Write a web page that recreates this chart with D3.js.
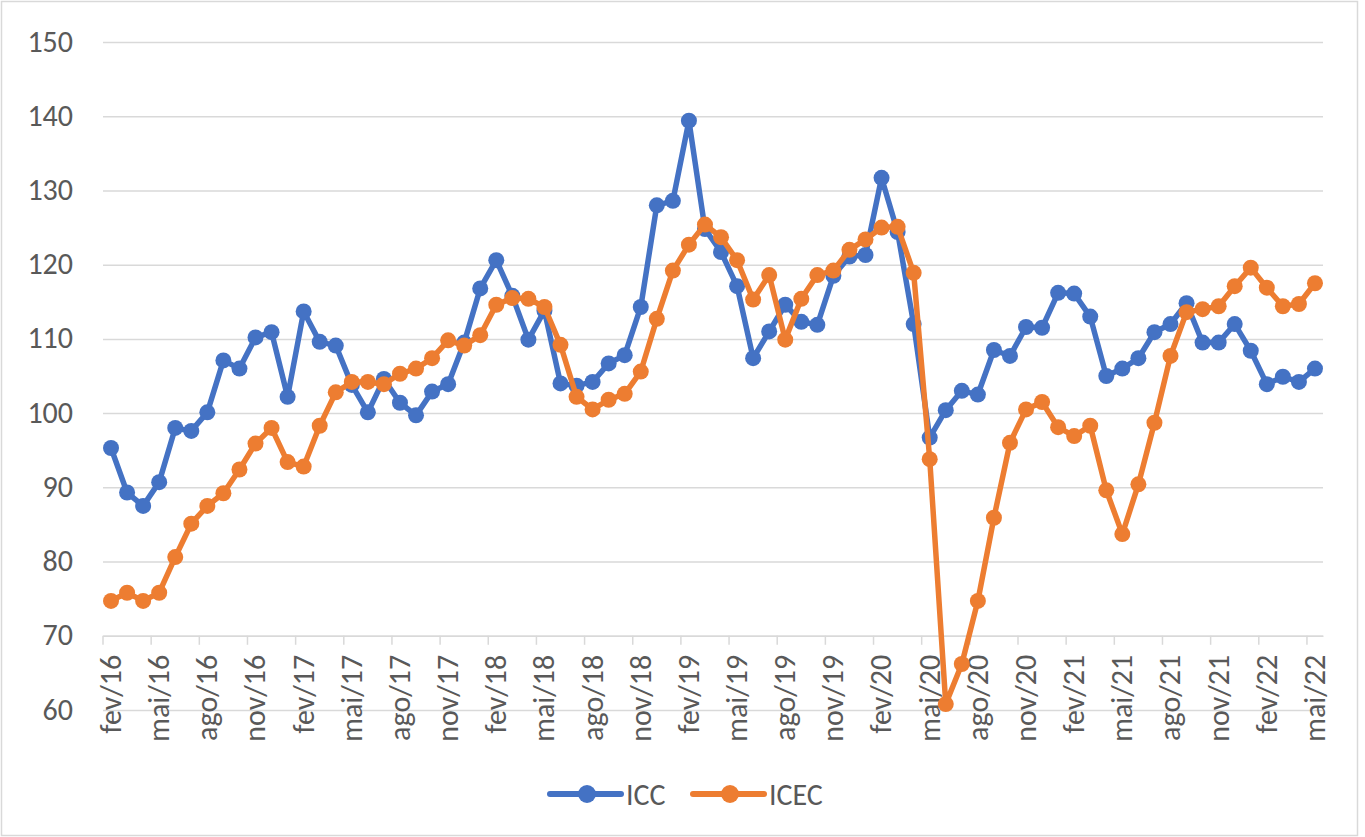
<!DOCTYPE html>
<html>
<head>
<meta charset="UTF-8">
<script src="https://cdn.jsdelivr.net/npm/d3@7"></script>
<style>
  body { margin: 0; background: #fff; }
  text { font-family: Carlito, "Liberation Sans Narrow", "Open Sans", sans-serif; fill: #595959; }
  .grid line { stroke: #d9d9d9; stroke-width: 1.5; }
  .axis-x line, .axis-x path { stroke: #d9d9d9; stroke-width: 1.5; }
</style>
</head>
<body>
<script>
var svgWidth = 1365, svgHeight = 837;
var margin = {top: 42, right: 42, bottom: 127, left: 103};

// monthly categories, fev/16 .. mai/22
var months = [
  "fev/16","mar/16","abr/16","mai/16","jun/16","jul/16","ago/16","set/16","out/16","nov/16","dez/16",
  "jan/17","fev/17","mar/17","abr/17","mai/17","jun/17","jul/17","ago/17","set/17","out/17","nov/17","dez/17",
  "jan/18","fev/18","mar/18","abr/18","mai/18","jun/18","jul/18","ago/18","set/18","out/18","nov/18","dez/18",
  "jan/19","fev/19","mar/19","abr/19","mai/19","jun/19","jul/19","ago/19","set/19","out/19","nov/19","dez/19",
  "jan/20","fev/20","mar/20","abr/20","mai/20","jun/20","jul/20","ago/20","set/20","out/20","nov/20","dez/20",
  "jan/21","fev/21","mar/21","abr/21","mai/21","jun/21","jul/21","ago/21","set/21","out/21","nov/21","dez/21",
  "jan/22","fev/22","mar/22","abr/22","mai/22"
];

var icc = [
  95.3, 89.3, 87.5, 90.7, 98.0, 97.6, 100.1, 107.1, 106.0, 110.2, 110.9,
  102.2, 113.7, 109.6, 109.1, 103.8, 100.1, 104.6, 101.4, 99.7, 102.9, 103.9, 109.5,
  116.8, 120.6, 115.8, 109.9, 113.8, 104.0, 103.7, 104.2, 106.7, 107.8, 114.3, 128.0,
  128.6, 139.4, 124.8, 121.7, 117.1, 107.4, 111.0, 114.6, 112.3, 111.9, 118.5, 121.1,
  121.3, 131.7, 124.4, 112.0, 96.7, 100.4, 103.0, 102.5, 108.5, 107.7, 111.6, 111.5,
  116.2, 116.1, 113.0, 105.0, 106.0, 107.4, 110.9, 112.0, 114.8, 109.5, 109.5, 112.0,
  108.4, 103.9, 104.9, 104.2, 106.0
];

var icec = [
  74.7, 75.8, 74.7, 75.8, 80.6, 85.1, 87.5, 89.2, 92.4, 95.9, 98.0,
  93.4, 92.8, 98.3, 102.8, 104.2, 104.2, 103.9, 105.3, 106.0, 107.4, 109.8, 109.1,
  110.5, 114.6, 115.5, 115.4, 114.3, 109.2, 102.2, 100.5, 101.8, 102.6, 105.6, 112.7,
  119.2, 122.7, 125.4, 123.7, 120.6, 115.3, 118.6, 109.9, 115.4, 118.6, 119.2, 122.0,
  123.4, 125.0, 125.1, 118.9, 93.8, 60.8, 66.2, 74.7, 85.9, 96.0, 100.5, 101.5,
  98.1, 96.9, 98.3, 89.6, 83.7, 90.4, 98.7, 107.7, 113.6, 114.0, 114.4, 117.1,
  119.6, 116.9, 114.4, 114.7, 117.5
];

var yTicks = [60, 70, 80, 90, 100, 110, 120, 130, 140, 150];
var axisCross = 70; // category axis crosses the value axis here

var series = [
  {name: "ICC", values: icc, color: "#4472C4"},
  {name: "ICEC", values: icec, color: "#ED7D31"}
];

var width = svgWidth - margin.left - margin.right,
    height = svgHeight - margin.top - margin.bottom;

var svg = d3.select("body").append("svg")
  .attr("width", svgWidth)
  .attr("height", svgHeight);

// chart border
svg.append("rect")
  .attr("x", 1.5).attr("y", 1.5)
  .attr("width", svgWidth - 9).attr("height", svgHeight - 3)
  .attr("fill", "none")
  .attr("stroke", "#d9d9d9")
  .attr("stroke-width", 1.5);

var g = svg.append("g")
  .attr("transform", "translate(" + margin.left + "," + margin.top + ")");

var x = d3.scaleBand().domain(months).range([0, width]).padding(0);
var bw = x.bandwidth();
var cx = function(m) { return x(m) + bw / 2; };

var y = d3.scaleLinear().domain([60, 150]).range([height, 0]);

// gridlines + y labels
var yAxis = g.append("g")
  .attr("class", "grid")
  .call(d3.axisLeft(y).tickValues(yTicks).tickSize(-width).tickPadding(30));
yAxis.select(".domain").remove();
yAxis.selectAll("text").style("font-size", "30px").attr("dy", "0.3em");

// x axis at 70, ticks between categories every 3 months
var labelled = months.filter(function(d, i) { return i % 3 === 0; });
var xAxis = g.append("g")
  .attr("class", "axis-x")
  .attr("transform", "translate(0," + y(axisCross) + ")")
  .call(d3.axisBottom(x).tickValues(labelled).tickSize(9).tickSizeOuter(0));
xAxis.selectAll(".tick line").attr("transform", "translate(" + (-bw / 2) + ",0)");
xAxis.selectAll("text")
  .style("font-size", "30px")
  .attr("text-anchor", "end")
  .attr("transform", "rotate(-90)")
  .attr("x", -19)
  .attr("y", 0)
  .attr("dy", "0.33em");

var line = d3.line()
  .x(function(d, i) { return cx(months[i]); })
  .y(function(d) { return y(d); });

series.forEach(function(s) {
  var sg = g.append("g");
  sg.append("path")
    .datum(s.values)
    .attr("fill", "none")
    .attr("stroke", s.color)
    .attr("stroke-width", 5.5)
    .attr("stroke-linejoin", "round")
    .attr("d", line);
  sg.selectAll("circle")
    .data(s.values)
    .enter().append("circle")
    .attr("cx", function(d, i) { return cx(months[i]); })
    .attr("cy", function(d) { return y(d); })
    .attr("r", 8)
    .attr("fill", s.color);
});

// legend
var legend = svg.append("g").attr("transform", "translate(0,794)");
var legendPos = [550, 693];
series.forEach(function(s, i) {
  var lx = legendPos[i];
  legend.append("line")
    .attr("x1", lx).attr("x2", lx + 71)
    .attr("y1", 0).attr("y2", 0)
    .attr("stroke", s.color)
    .attr("stroke-width", 6)
    .attr("stroke-linecap", "round");
  legend.append("circle")
    .attr("cx", lx + 37).attr("cy", 0).attr("r", 9)
    .attr("fill", s.color);
  legend.append("text")
    .attr("x", lx + 76).attr("y", 0)
    .attr("dy", "0.35em")
    .style("font-size", "30px")
    .text(s.name);
});
</script>
</body>
</html>
